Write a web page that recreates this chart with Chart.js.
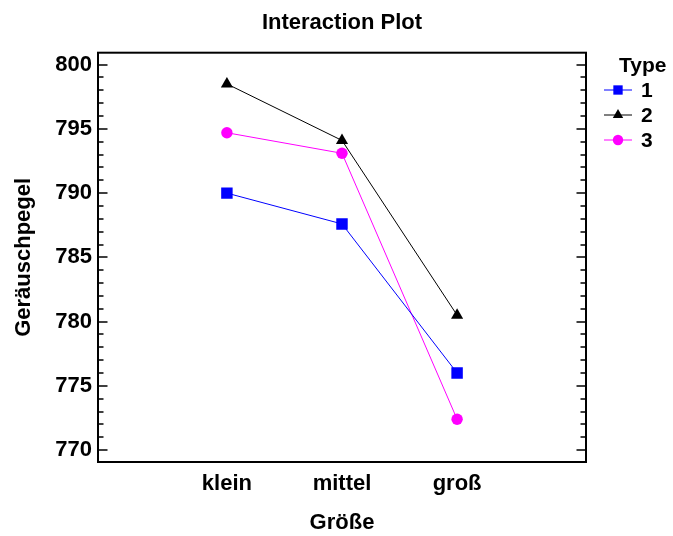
<!DOCTYPE html>
<html><head><meta charset="utf-8">
<script src="https://cdn.jsdelivr.net/npm/chart.js@4/dist/chart.umd.min.js"></script>
<style>html,body{margin:0;padding:0;background:#fff}</style>
</head><body>
<canvas id="c" width="673" height="536"></canvas>
<script>
const categories = ['klein', 'mittel', 'groß'];
const seriesNames = ['1', '2', '3'];
const type1 = [790.0, 787.6, 776.0];
const type2 = [798.5, 794.1, 780.5];
const type3 = [794.7, 793.1, 772.4];
const yTicks = [770, 775, 780, 785, 790, 795, 800];
const yMinorTicks = [771, 772, 773, 774, 776, 777, 778, 779, 781, 782, 783, 784, 786, 787, 788, 789, 791, 792, 793, 794, 796, 797, 798, 799];
const chartTitle = 'Interaction Plot';
const xTitle = 'Größe';
const yTitle = 'Geräuschpegel';
const legendTitle = 'Type';

const FONT = "'Liberation Sans', Arial, Helvetica, sans-serif";

function toPoints(arr) { return arr.map((v, i) => ({ x: i, y: v })); }

const styles = [
  { color: '#0000ff', pointStyle: 'rect', radius: 8.1, legendRadius: 6.6 },
  { color: '#000000', pointStyle: 'triangle', radius: 7, legendRadius: 6 },
  { color: '#ff00ff', pointStyle: 'circle', radius: 5.7, legendRadius: 5.2 }
];
const seriesValues = [type1, type2, type3];

const datasets = seriesValues.map((vals, k) => ({
  label: seriesNames[k],
  data: toPoints(vals),
  borderColor: styles[k].color,
  backgroundColor: styles[k].color,
  pointBackgroundColor: styles[k].color,
  pointBorderWidth: 0,
  pointStyle: styles[k].pointStyle,
  pointRadius: styles[k].radius,
  borderWidth: 1,
  tension: 0,
  fill: false,
  yAxisID: 'y'
}));

const framePlugin = {
  id: 'frame',
  beforeDatasetsDraw(chart) {
    const { ctx, chartArea: a } = chart;
    const ys = chart.scales.y;
    ctx.save();
    ctx.strokeStyle = '#000';
    ctx.lineWidth = 1.5;
    ctx.beginPath();
    yTicks.forEach(v => {
      const p = Math.round(ys.getPixelForValue(v));
      ctx.moveTo(a.left, p); ctx.lineTo(a.left + 9.5, p);
      ctx.moveTo(a.right, p); ctx.lineTo(a.right - 9.5, p);
    });
    yMinorTicks.forEach(v => {
      const p = Math.round(ys.getPixelForValue(v));
      ctx.moveTo(a.left, p); ctx.lineTo(a.left + 5.5, p);
      ctx.moveTo(a.right, p); ctx.lineTo(a.right - 5.5, p);
    });
    ctx.stroke();
    ctx.lineWidth = 2;
    ctx.strokeRect(a.left, a.top, a.right - a.left, a.bottom - a.top);
    ctx.restore();
  }
};

function drawMarker(ctx, style, r, x, y) {
  if (Chart.helpers && Chart.helpers.drawPoint) {
    Chart.helpers.drawPoint(ctx, { pointStyle: style, radius: r, rotation: 0, borderWidth: 0 }, x, y);
    return;
  }
  ctx.beginPath();
  if (style === 'rect') { const s = r * Math.SQRT1_2; ctx.rect(x - s, y - s, 2 * s, 2 * s); }
  else if (style === 'triangle') { ctx.moveTo(x, y - r); ctx.lineTo(x + r * 0.866, y + r / 2); ctx.lineTo(x - r * 0.866, y + r / 2); ctx.closePath(); }
  else ctx.arc(x, y, r, 0, Math.PI * 2);
  ctx.fill();
}

const legendPlugin = {
  id: 'customLegend',
  afterDraw(chart) {
    const ctx = chart.ctx;
    ctx.save();
    ctx.fillStyle = '#000';
    ctx.font = "bold 21px " + FONT;
    ctx.textAlign = 'left';
    ctx.textBaseline = 'middle';
    ctx.fillText(legendTitle, 619, 66);
    const ys = [90, 115, 140];
    chart.data.datasets.forEach((ds, k) => {
      const y = ys[k];
      ctx.strokeStyle = ds.borderColor;
      ctx.lineWidth = 1;
      ctx.beginPath(); ctx.moveTo(604, y); ctx.lineTo(632, y); ctx.stroke();
      ctx.fillStyle = ds.borderColor;
      ctx.strokeStyle = ds.borderColor;
      drawMarker(ctx, styles[k].pointStyle, styles[k].legendRadius, 618, y);
      ctx.fillStyle = '#000';
      ctx.fillText(ds.label, 641, y + 1);
    });
    ctx.restore();
  }
};

new Chart(document.getElementById('c'), {
  type: 'line',
  data: { datasets },
  options: {
    responsive: false,
    animation: false,
    devicePixelRatio: 1,
    layout: { padding: { left: 11, right: 0, top: 0, bottom: 0 } },
    plugins: {
      legend: { display: false },
      tooltip: { enabled: false },
      title: {
        display: true,
        text: chartTitle,
        color: '#000',
        font: { family: FONT, size: 22, weight: 'bold', lineHeight: 1.2 },
        padding: { top: 9.8, bottom: 16.5 }
      }
    },
    scales: {
      x: {
        type: 'linear',
        min: -1.12,
        max: 3.12,
        afterFit(s) { s.height = 74; },
        afterBuildTicks(s) { s.ticks = categories.map((c, i) => ({ value: i })); },
        grid: { display: false, drawTicks: false },
        border: { display: false },
        ticks: {
          autoSkip: false,
          maxRotation: 0,
          padding: 9,
          color: '#000',
          font: { family: FONT, size: 22, weight: 'bold' },
          callback: (v) => categories[v]
        },
        title: {
          display: true,
          text: xTitle,
          color: '#000',
          font: { family: FONT, size: 22, weight: 'bold', lineHeight: 1.2 },
          padding: { top: 0, bottom: 0 }
        }
      },
      y: {
        position: 'left',
        min: 769.07,
        max: 800.93,
        afterFit(s) { s.width = 87; },
        afterBuildTicks(s) { s.ticks = yTicks.map(v => ({ value: v })); },
        grid: { display: false, drawTicks: false },
        border: { display: false },
        ticks: {
          padding: 6,
          color: '#000',
          font: { family: FONT, size: 22, weight: 'bold' },
          callback: (v) => String(v)
        },
        title: {
          display: true,
          text: yTitle,
          color: '#000',
          font: { family: FONT, size: 22, weight: 'bold', lineHeight: 1.2 },
          padding: { top: 0, bottom: 0 }
        }
      },
      yRight: {
        type: 'linear',
        position: 'right',
        display: true,
        min: 769.07,
        max: 800.93,
        afterFit(s) { s.width = 87; },
        grid: { display: false, drawTicks: false },
        border: { display: false },
        ticks: { display: false }
      }
    }
  },
  plugins: [framePlugin, legendPlugin]
});
</script>
</body></html>
